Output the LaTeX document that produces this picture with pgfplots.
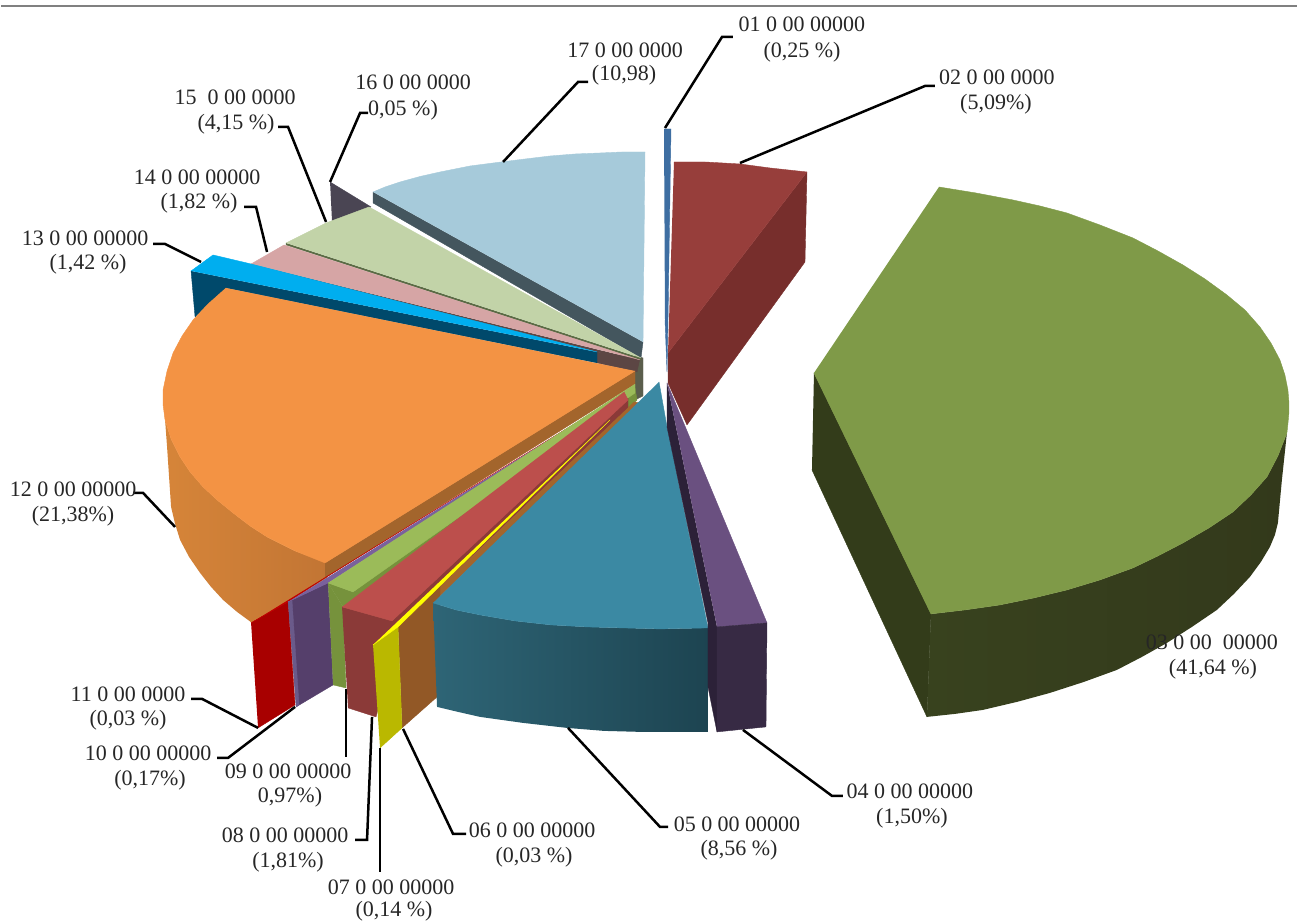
\documentclass[border=0pt]{standalone}
\usepackage{pgfplots}
\pgfplotsset{compat=1.18}
\usepackage{fontspec}
\setmainfont{Liberation Serif}
\newcommand\face[2]{\addplot[fill=#1,draw=#1,line width=0.4pt,line join=round] coordinates {#2};}
\newcommand\sface[3]{\addplot[left color=#1,right color=#2,draw=none] coordinates {#3};}
\newcommand\lead[1]{\addplot[black,line width=2.5pt,line join=miter] coordinates {#1};}
\newcommand\lab[3]{\node[overlay,font=\fontsize{22}{24}\selectfont,text=black!85,inner sep=0pt,anchor=center] at (axis cs:#1,#2) {\strut #3};}
\definecolor{c17}{HTML}{A6CADA}\definecolor{c17d}{HTML}{44565E}
\definecolor{c16}{HTML}{4A4553}
\definecolor{c15}{HTML}{C2D3A8}\definecolor{c15d}{HTML}{5B6B45}
\definecolor{c14}{HTML}{D6A5A5}\definecolor{c14d}{HTML}{5C4644}
\definecolor{c13}{HTML}{00AEEF}\definecolor{c13d}{HTML}{00496B}
\definecolor{c12}{HTML}{F39344}\definecolor{c12d}{HTML}{A3652C}
\definecolor{c12a}{HTML}{D68539}\definecolor{c12b}{HTML}{C27534}
\definecolor{cw}{HTML}{5B5E4C}
\definecolor{c11}{HTML}{A80000}\definecolor{c11t}{HTML}{C00000}
\definecolor{c09}{HTML}{9BBB59}\definecolor{c09d}{HTML}{76923C}
\definecolor{c08}{HTML}{BC4F4C}\definecolor{c08d}{HTML}{8B3A38}
\definecolor{c07}{HTML}{BAB800}\definecolor{c07t}{HTML}{FFFF00}
\definecolor{c06}{HTML}{925826}
\definecolor{c05}{HTML}{3B89A3}\definecolor{c05a}{HTML}{2E6576}\definecolor{c05b}{HTML}{1D4451}
\definecolor{c04}{HTML}{6A5080}\definecolor{c04d}{HTML}{2C2138}\definecolor{c04f}{HTML}{372A44}
\definecolor{c10}{HTML}{7A619C}\definecolor{c10d}{HTML}{553F6B}\definecolor{c10e}{HTML}{6A5A8A}
\definecolor{c03}{HTML}{7F9A48}\definecolor{c03d}{HTML}{333C1A}\definecolor{c03a}{HTML}{38421E}\definecolor{c03b}{HTML}{33391B}
\definecolor{c02}{HTML}{973E3B}\definecolor{c02d}{HTML}{772E2C}
\definecolor{c01}{HTML}{3E6EA2}
\begin{document}
\begin{tikzpicture}
\begin{axis}[scale only axis,width=1298pt,height=921pt,xmin=0,xmax=1298,ymin=0,ymax=921,y dir=reverse,axis lines=none,clip=false,no markers]
% page corners, so that the picture has the full extent
\addplot[draw=none] coordinates {(0,0)(1298,921)};
% rule at the top
\addplot[color=black!50,line width=2.2pt] coordinates {(1,6)(1297,6)};
% back wall
\face{cw}{(635,356)(643,358)(643,396)(635,400)}
\face{c14d}{(597,352)(640,358)(637,372)(597,363)}
% 16, 17
\face{c16}{(330,182)(371,207)(332,222)}
\face{c17d}{(373,192)(373,203)(641,358)(643,342)}
\face{c17}{(373,192)(385,187)(400,182)(420,176.5)(440,172)(470,166)(501,162)(525,159)(550,156)(575,154)(600,153)(622,152)(645,152)(643,342)}
\face{c15d}{(286,243)(286,245)(640,360)(641,358)}
\face{c15}{(286,243)(326,223)(369,207)(641,358)}
\face{c14d}{(251,264)(251,266)(638,362)(640,360)}
\face{c14}{(251,264)(284,245)(640,360)}
\face{c13d}{(191,271)(195,317)(226,288)(597,363)(597,352)}
\face{c13}{(191,271)(213,255)(251,264)(597,352)}
% 12
\sface{c12a}{c12b}{(163,390)(165,420)(167,447)(169,477)(171,507)(175,524)(180,540)(189,557)(200,573)(211,587)(223,600)(237,612)(252,623)(288,602)(327,578)(327,563)(295,551)(267,537)(250,526)(233,513)(217,500)(203,487)(190,472)(180,457)(171,439)(165,420)}
\face{c12d}{(325,563)(635,371)(635,384)(325,578)}
\face{c12}{(226,288)(208,304)(193,320)(182,336)(173,353)(167,371)(163,390)(163,405)(165,420)(171,439)(180,457)(190,472)(203,487)(217,500)(233,513)(250,526)(267,537)(295,551)(325,563)(635,371)}
% 11, 10
\face{c11}{(251,623)(288,602)(295,705)(258,728)}
\face{c11t}{(251,623)(288,602)(325,578)(605,405)}
\face{c10d}{(288,602)(328,583)(333,685)(296,707)}
\face{c10e}{(288,602)(292,601)(299,705)(296,707)}
\face{c10}{(288,602)(328,583)(605,405)}
% 09
\face{c09d}{(328,583)(343,607)(346,688)(333,685)}
\face{c09d}{(328,583)(353,592)(635,388)(637,400)(628,410)(392,621)(343,607)}
\face{c09}{(328,583)(353,592)(635,393)(635,384)}
% 08
\face{c08d}{(342,607)(392,621)(400,622)(376,717)(348,708)}
\face{c08d}{(392,621)(398,627)(628,408)(628,398)}
\face{c08}{(342,607)(392,621)(628,400)(624,392)}
% 06
\face{c12d}{(398,627)(628,408)(634,402)(640,403)(433,603)}
\face{c06}{(398,627)(440,585)(440,690)(437,697)(402,728)}
% 07
\face{c07}{(373,645)(398,627)(402,728)(380,748)}
\face{c07t}{(373,645)(398,627)(610,420)}
% 05
\sface{c05a}{c05b}{(433,603)(437,707)(458,712)(480,717)(523,723)(567,728)(604,731)(641,732)(708,732)(708,628)(660,629)(623,628)(587,627)(551,625)(515,621)(480,615)(456,610)}
\face{c05}{(659,382)(667,427)(708,628)(660,629)(623,628)(587,627)(551,625)(515,621)(480,615)(456,610)(433,603)}
% 04
\face{c04d}{(667,383)(667,427)(708,623)(708,687)(717,732)(717,627)}
\face{c04}{(667,383)(767,623)(717,627)}
\face{c04f}{(717,627)(767,623)(766,727)(717,732)}
% 02
\face{c02d}{(807,172)(805,262)(687,425)(668,383)(668,353)}
\face{c02}{(674,162)(705,162)(740,164)(770,168)(807,172)(668,353)}
% 01
\face{c01}{(664,129)(671,129)(668,320)(667,372)(665,320)}
% 03
\face{c03d}{(814,373)(931,614)(927,717)(812,470)}
\sface{c03a}{c03b}{(931,614)(927,717)(955,714)(983,710)(1017,702)(1050,693)(1084,682)(1117,670)(1142,657)(1167,643)(1192,627)(1217,610)(1234,594)(1250,577)(1261,562)(1270,547)(1275,535)(1278,523)(1282,480)(1287,433)(1278,456)(1267,477)(1251,495)(1233,512)(1209,528)(1183,543)(1158,556)(1133,568)(1100,580)(1067,590)(1034,598)(1000,605)(965,610)}
\face{c03}{(939,187)(976,193)(1013,200)(1040,206)(1067,213)(1100,225)(1133,238)(1158,251)(1183,265)(1205,279)(1227,295)(1245,310)(1260,327)(1271,343)(1280,360)(1285,375)(1288,390)(1289,402)(1289,413)(1288,424)(1287,433)(1278,456)(1267,477)(1251,495)(1233,512)(1209,528)(1183,543)(1158,556)(1133,568)(1100,580)(1067,590)(1034,598)(1000,605)(965,610)(931,614)(814,373)}
% leaders
\lead{(665,128)(722,37)(733,37)}
\lead{(740,163)(925,86)(935,86)}
\lead{(743,730)(832,796)(843,796)}
\lead{(568,728)(660,827)(668,827)}
\lead{(403,729)(453,834)(466,834)}
\lead{(380,748)(380,872)}
\lead{(372,717)(367,840)(355,840)}
\lead{(346,689)(346,757)}
\lead{(295,707)(228,758)(217,758)}
\lead{(258,728)(202,699)(191,699)}
\lead{(175,527)(143,493)(133,493)}
\lead{(201,262)(165,244)(153,244)}
\lead{(267,252)(256,207)(244,207)}
\lead{(326,222)(288,127)(278,127)}
\lead{(330,182)(360,113)(368,113)}
\lead{(503,162)(578,82)(588,82)}
% labels
\lab{802}{27}{01 0 00 00000}\lab{802}{53}{(0,25 \%)}
\lab{997}{80}{02 0 00 0000}\lab{996}{105}{(5,09\%)}
\lab{1212}{645}{03 0 00\ \ 00000}\lab{1213}{670}{(41,64 \%)}
\lab{910}{794}{04 0 00 00000}\lab{912}{819}{(1,50\%)}
\lab{737}{827}{05 0 00 00000}\lab{739}{851}{(8,56 \%)}
\lab{532}{833}{06 0 00 00000}\lab{534}{858}{(0,03 \%)}
\lab{391}{890}{07 0 00 00000}\lab{394}{912}{(0,14 \%)}
\lab{285}{838}{08 0 00 00000}\lab{288}{863}{(1,81\%)}
\lab{288}{774}{09 0 00 00000}\lab{290}{798}{0,97\%)}
\lab{148}{756}{10 0 00 00000}\lab{150}{781}{(0,17\%)}
\lab{128}{697}{11 0 00 0000}\lab{128}{721}{(0,03 \%)}
\lab{73}{492}{12 0 00 00000}\lab{73}{517}{(21,38\%)}
\lab{85}{241}{13 0 00 00000}\lab{88}{265}{(1,42 \%)}
\lab{197}{180}{14 0 00 00000}\lab{199}{204}{(1,82 \%)}
\lab{235}{100}{15\ \ 0 00 0000}\lab{236}{125}{(4,15 \%)}
\lab{413}{85}{16 0 00 0000}\lab{403}{111}{0,05 \%)}
\lab{625}{53}{17 0 00 0000}\lab{624}{76}{(10,98)}
\end{axis}
\end{tikzpicture}
\end{document}
